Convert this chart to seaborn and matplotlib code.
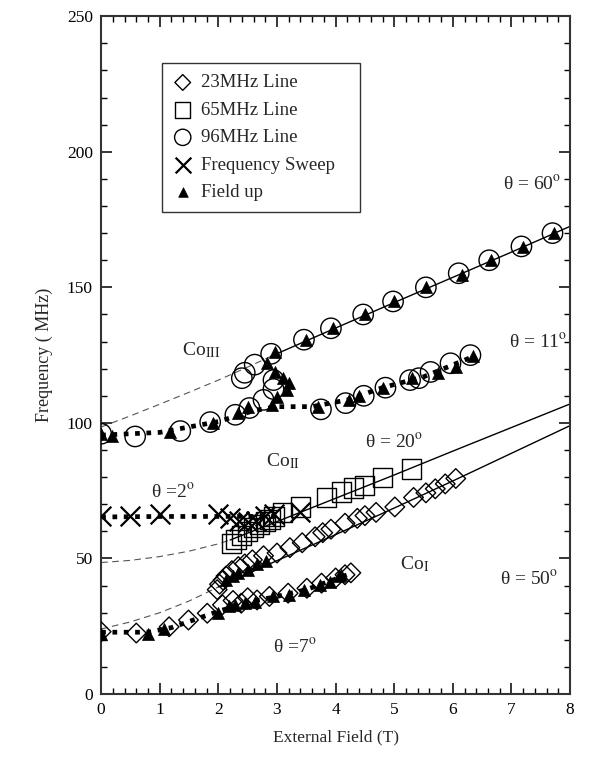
import numpy as np
import pandas as pd
import matplotlib
matplotlib.use('Agg')
import matplotlib.pyplot as plt
import seaborn as sns
from matplotlib.ticker import MultipleLocator

# ── Data ──────────────────────────────────────────────────────────────────────
# 23 MHz line (diamonds): lower / shared branch then upper (theta = 50) branch
d23_x = [0.0, 0.6, 1.16, 1.49, 1.81, 2.07, 2.25, 2.39, 2.5, 2.66, 2.87, 3.19, 3.51,
         3.76, 4.0, 4.16, 4.26,
         1.98, 2.02, 2.08, 2.13, 2.23, 2.34, 2.45, 2.58, 2.77, 3.0, 3.22, 3.43, 3.65,
         3.78, 3.92, 4.16, 4.37, 4.5, 4.69, 5.01, 5.33, 5.54, 5.7, 5.87, 6.05]
d23_y = [23.0, 22.5, 24.8, 27.3, 29.8, 32.9, 34.5, 33.5, 35.5, 34.7, 36.0, 37.2, 39.0,
         40.9, 42.8, 44.0, 44.7,
         38.5, 40.5, 42.0, 43.5, 45.5, 47.0, 48.0, 49.5, 51.0, 52.0, 54.0, 55.8, 58.0,
         59.5, 60.8, 63.0, 64.8, 65.8, 67.0, 69.0, 72.5, 74.2, 75.7, 77.5, 79.5]

# 65 MHz line (squares)
d65_x = [2.22, 2.3, 2.4, 2.5, 2.6, 2.7, 2.8, 2.88, 2.95, 3.1, 3.4, 3.85, 4.1, 4.3,
         4.5, 4.8, 5.3]
d65_y = [55.5, 57.0, 58.5, 60.0, 61.5, 62.5, 63.5, 64.5, 65.5, 67.0, 69.0, 72.5, 74.5,
         76.0, 77.0, 80.0, 83.0]

# 96 MHz line (circles): theta = 60 branch, cluster, theta = 11 branch
d96_x = [2.9, 3.46, 3.92, 4.47, 4.98, 5.54, 6.1, 6.62, 7.17, 7.7,
         2.4, 2.45, 2.62,
         0.0, 0.58, 1.35, 1.86, 2.29, 2.53, 2.77, 2.94, 2.94,
         3.75, 4.17, 4.48, 4.85, 5.27, 5.42, 5.62, 5.96, 6.3]
d96_y = [125.5, 130.7, 134.9, 140.0, 144.8, 150.0, 155.2, 160.0, 165.1, 170.0,
         116.5, 118.5, 121.5,
         96.0, 95.0, 97.0, 100.3, 103.0, 105.5, 108.5, 112.5, 115.8,
         105.0, 107.3, 110.0, 113.0, 115.8, 116.5, 118.8, 122.0, 125.0]

# Frequency sweep (crosses)
sweep_x = [0.0, 0.5, 1.0, 2.0, 2.2, 2.35, 2.5, 2.65, 2.8, 2.95, 3.4]
sweep_y = [65.5, 65.5, 66.5, 66.5, 65.0, 64.0, 63.5, 64.0, 65.5, 66.5, 67.0]

# Field up (filled triangles)
up_x = [2.83, 2.97, 3.5, 3.95, 4.5, 5.0, 5.55, 6.15, 6.65, 7.2, 7.72,
        0.0, 0.19, 1.18, 1.9, 2.34, 2.5, 2.97, 3.1, 3.2, 3.17, 3.0, 2.92,
        3.7, 4.22, 4.4, 4.8, 5.3, 5.74, 6.05, 6.35,
        2.13, 2.25, 2.34, 2.5, 2.66, 2.82,
        0.0, 0.8, 1.08, 1.99, 2.18, 2.29, 2.45, 2.63, 2.93, 3.2, 3.46, 3.73, 3.9,
        4.05, 4.1]
up_y = [122.0, 126.0, 130.5, 135.0, 140.0, 145.0, 150.0, 154.5, 160.0, 165.0, 170.0,
        96.0, 95.0, 96.6, 100.0, 103.6, 106.0, 118.7, 116.5, 114.6, 112.0, 109.5, 106.6,
        106.0, 108.4, 110.0, 113.0, 116.5, 118.3, 120.6, 124.5,
        42.2, 43.5, 44.7, 45.9, 47.8, 49.0,
        22.3, 22.3, 24.0, 29.8, 32.3, 32.9, 33.5, 34.0, 36.0, 36.5, 38.5, 40.3, 41.5,
        43.4, 44.0]

# Fit curves (dashed part below the first data point, solid above)
fit60_dash_x = [0.0, 0.5, 1.0, 1.5, 2.0, 2.5, 2.9]
fit60_dash_y = [98.5, 102.6, 106.9, 111.3, 115.8, 120.6, 124.6]
fit60_x = [2.9, 4.0, 5.0, 6.0, 7.0, 8.0]
fit60_y = [124.6, 135.0, 144.4, 153.7, 163.0, 172.5]

fit20_dash_x = [0.0, 0.5, 1.0, 1.5, 2.0, 2.2]
fit20_dash_y = [48.5, 49.3, 50.7, 52.7, 55.4, 56.8]
fit20_x = [2.2, 3.0, 4.0, 5.0, 6.0, 7.0, 8.0]
fit20_y = [56.8, 63.6, 72.2, 80.8, 89.6, 98.3, 107.0]

fit50_dash_x = [0.0, 0.5, 1.0, 1.5, 2.0]
fit50_dash_y = [24.0, 26.6, 30.0, 34.3, 39.5]
fit50_x = [2.0, 3.0, 4.0, 5.0, 6.0, 7.0, 8.0]
fit50_y = [39.5, 49.2, 58.8, 68.6, 78.6, 88.8, 99.0]

# Thick dotted guides
dot11_x = [0.0, 1.0, 2.0, 2.6, 3.0, 3.6, 4.2, 4.8, 5.5, 6.35]
dot11_y = [95.5, 96.5, 100.5, 104.5, 106.0, 106.0, 108.5, 113.0, 117.0, 124.5]
dot2_x = [0.0, 1.0, 2.0, 3.0]
dot2_y = [65.3, 65.5, 65.5, 65.5]
dot7_x = [0.0, 0.8, 1.2, 1.6, 2.0, 2.5, 3.0, 3.5, 4.2]
dot7_y = [22.8, 22.8, 24.5, 27.5, 30.5, 33.8, 36.0, 38.5, 44.0]

# ── Style ─────────────────────────────────────────────────────────────────────
sns.set_style('ticks')
plt.rcParams['font.family'] = ['Liberation Serif', 'DejaVu Serif']
plt.rcParams['mathtext.fontset'] = 'stix'

fig = plt.figure(figsize=(6.02, 7.59), dpi=100)
ax = fig.add_axes([0.168, 0.0856, 0.779, 0.893])

DASH = dict(color='#555555', lw=0.8, linestyle=(0, (6, 4)))
SOLID = dict(color='black', lw=1.0)
DOT = dict(color='black', lw=3.4, linestyle=(0, (1, 1.4)))


def curve(x, y, style):
    sns.lineplot(x=x, y=y, ax=ax, sort=False, estimator=None, zorder=2, **style)


for xs, ys in [(fit60_dash_x, fit60_dash_y), (fit20_dash_x, fit20_dash_y),
               (fit50_dash_x, fit50_dash_y)]:
    curve(xs, ys, DASH)
for xs, ys in [(fit60_x, fit60_y), (fit20_x, fit20_y), (fit50_x, fit50_y)]:
    curve(xs, ys, SOLID)
for xs, ys in [(dot11_x, dot11_y), (dot2_x, dot2_y), (dot7_x, dot7_y)]:
    curve(xs, ys, DOT)

# ── Markers ───────────────────────────────────────────────────────────────────
sns.scatterplot(x=d23_x, y=d23_y, marker='D', s=100, facecolor='none',
                edgecolor='black', linewidth=1.0, ax=ax, label='23MHz Line', zorder=3)
sns.scatterplot(x=d65_x, y=d65_y, marker='s', s=190, facecolor='none',
                edgecolor='black', linewidth=1.0, ax=ax, label='65MHz Line', zorder=3)
sns.scatterplot(x=d96_x, y=d96_y, marker='o', s=215, facecolor='none',
                edgecolor='black', linewidth=1.0, ax=ax, label='96MHz Line', zorder=3)
sns.scatterplot(x=sweep_x, y=sweep_y, marker='x', s=200, color='black',
                linewidth=1.6, ax=ax, label='Frequency Sweep', zorder=3)
sns.scatterplot(x=up_x, y=up_y, marker='^', s=75, color='black',
                edgecolor='black', linewidth=0.5, ax=ax, label='Field up', zorder=4)

# ── Axes ──────────────────────────────────────────────────────────────────────
ax.set_xlim(0, 8)
ax.set_ylim(0, 250)
ax.xaxis.set_major_locator(MultipleLocator(1))
ax.xaxis.set_minor_locator(MultipleLocator(0.2))
ax.yaxis.set_major_locator(MultipleLocator(50))
ax.yaxis.set_minor_locator(MultipleLocator(10))
ax.tick_params(which='both', direction='in', top=True, right=True,
               labelsize=12.5, colors='black', pad=6)
ax.tick_params(which='major', length=8, width=1.1)
ax.tick_params(which='minor', length=4, width=1.0)
for sp in ax.spines.values():
    sp.set_linewidth(1.5)
    sp.set_color('#333333')
    sp.set_visible(True)

ax.set_xlabel('External Field (T)', fontsize=12.5, labelpad=8)
ax.set_ylabel('Frequency ( MHz)', fontsize=13, labelpad=10)

# ── Annotations ───────────────────────────────────────────────────────────────
TXT = dict(fontsize=14, ha='center', va='center')
ax.text(7.35, 188, r'θ = 60$^{\mathrm{o}}$', **TXT)
ax.text(7.45, 130, r'θ = 11$^{\mathrm{o}}$', **TXT)
ax.text(1.7, 127, r'Co$_{\mathrm{III}}$', **TXT)
ax.text(5.0, 93, r'θ = 20$^{\mathrm{o}}$', **TXT)
ax.text(3.1, 86, r'Co$_{\mathrm{II}}$', **TXT)
ax.text(1.22, 74.5, r'θ =2$^{\mathrm{o}}$', **TXT)
ax.text(7.3, 42.5, r'θ = 50$^{\mathrm{o}}$', **TXT)
ax.text(5.35, 48, r'Co$_{\mathrm{I}}$', **TXT)
ax.text(3.3, 17.5, r'θ =7$^{\mathrm{o}}$', **TXT)

# legend box spans a fixed area of the axes, entries left-aligned inside it
leg = ax.legend(loc='upper left', bbox_to_anchor=(0.13, 0.708, 0.422, 0.223),
                mode='expand', frameon=True, fancybox=False, edgecolor='black',
                fontsize=13.5, labelspacing=0.55, handletextpad=0.5, borderpad=0.6,
                handlelength=1.0, markerscale=0.8, borderaxespad=0)
leg.get_frame().set_linewidth(1.0)

fig.savefig('out.png', dpi=100)
